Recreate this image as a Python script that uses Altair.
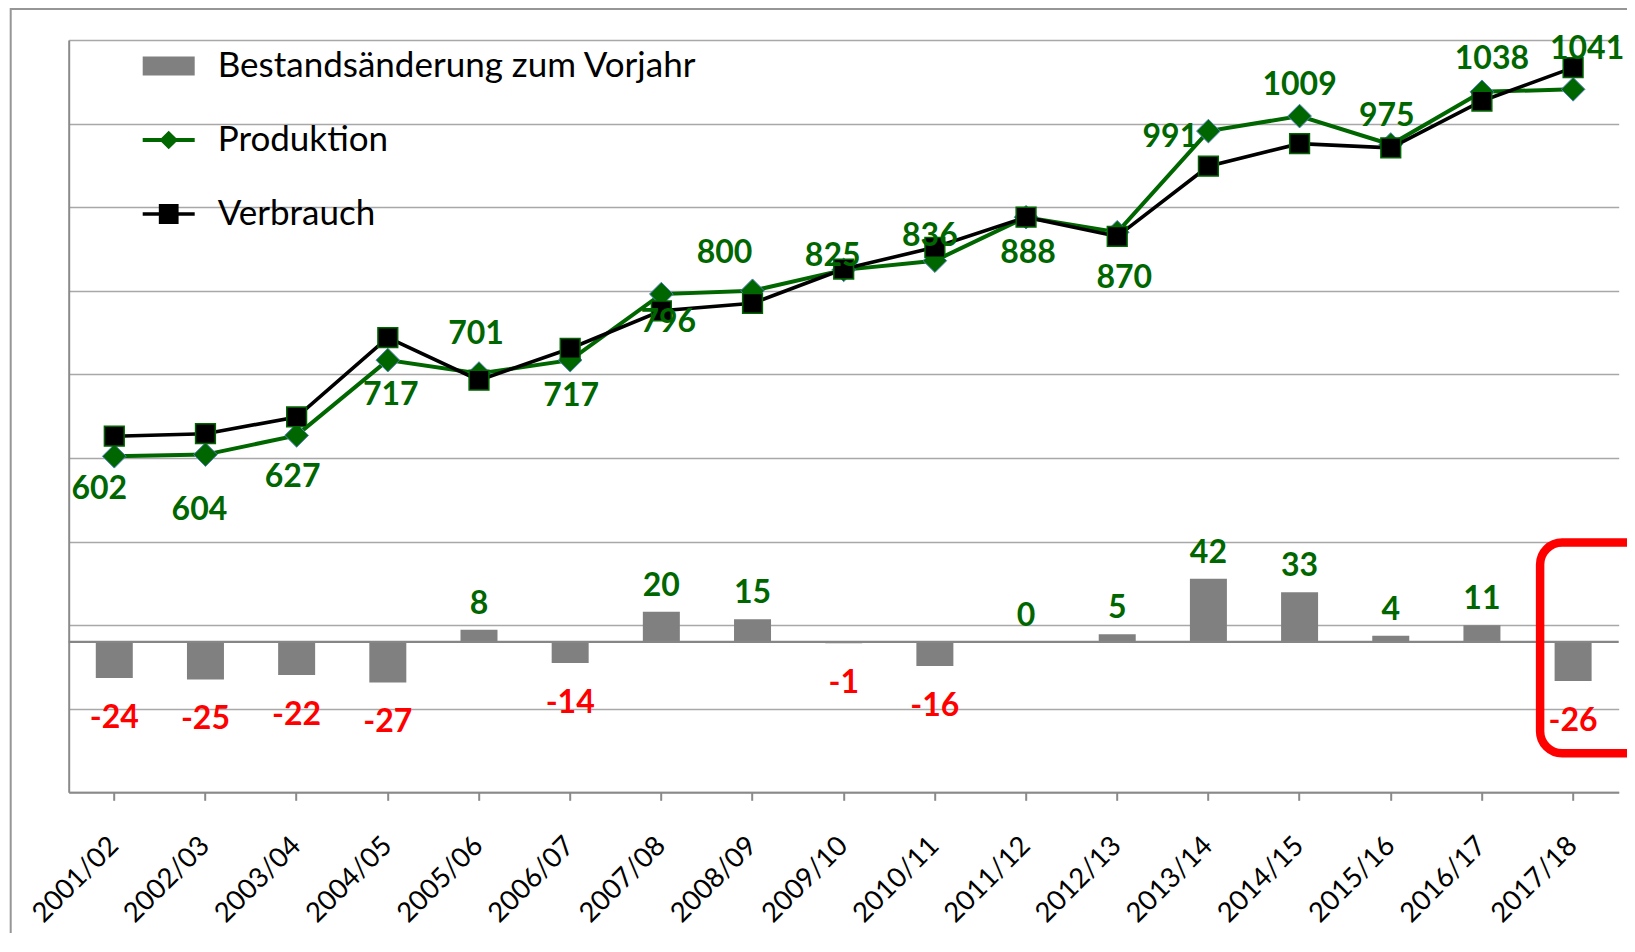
import altair as alt
import pandas as pd

# ---------------- data ----------------
SAISON = ["2001/02", "2002/03", "2003/04", "2004/05", "2005/06", "2006/07",
          "2007/08", "2008/09", "2009/10", "2010/11", "2011/12", "2012/13",
          "2013/14", "2014/15", "2015/16", "2016/17", "2017/18"]
PRODUKTION = [602, 604, 627, 717, 701, 717, 796, 800, 825, 836, 888, 870,
              991, 1009, 975, 1038, 1041]
VERBRAUCH = [626, 629, 649, 744, 693, 731, 776, 785, 826, 852, 888, 865,
             949, 976, 971, 1027, 1067]
BESTAND = [-24, -25, -22, -27, 8, -14, 20, 15, -1, -16, 0, 5, 42, 33, 4, 11, -26]
SERIES = ["Bestandsänderung zum Vorjahr", "Produktion", "Verbrauch"]
Y_GRID = [200, 300, 400, 500, 600, 700, 800, 900, 1000, 1100]

# highlighted season (red frame) and its vertical extent on the change axis
HIGHLIGHT = ["2017/18"]
HIGHLIGHT_LO = [-74]
HIGHLIGHT_HI = [66]

# ---------------- layout / style ----------------
# label nudges (pixels) for the Produktion data labels, as placed in the original
LABEL_DX = [-15, -6, -4, 3, -3, 1, 7, -28, -11, -5, 2, 7, -38, 0, -4, 10, 14]
LABEL_DY = [33, 55, 42, 35, -40, 36, 28, -38, -14, -25, 36, 46, 6, -31, -28, -33, -40]

GREEN = "#006600"
RED = "#ff0000"
BAR = "#808080"
FONT = "Lato"
W, H = 1550, 752.3

df = pd.DataFrame({"Saison": SAISON, "Produktion": PRODUKTION,
                   "Verbrauch": VERBRAUCH, "Bestand": BESTAND,
                   "BestandText": [str(v) for v in BESTAND]})

x_axis = alt.Axis(title=None, labelAngle=-45, labelAlign="right", labelBaseline="middle",
                  labelFont=FONT, labelFontSize=27.5, labelColor="black", labelPadding=41,
                  tickSize=8, tickColor="#8a8a8a", tickWidth=2,
                  domainColor="#8a8a8a", domainWidth=2, grid=False, labelOverlap=False)
X = alt.X("Saison:N", sort=SAISON, scale=alt.Scale(paddingInner=0, paddingOuter=0), axis=x_axis)

YP = alt.Scale(domain=[200, 1100], nice=False, zero=False)
YB = alt.Scale(domain=[-100, 400], nice=False, zero=False)
y_axis = alt.Axis(title=None, values=Y_GRID, grid=True, gridColor="#a8a8a8", gridWidth=1.6,
                  labels=False, ticks=False, domain=True, domainColor="#8a8a8a", domainWidth=2)

# ---------- secondary (Bestandsänderung) ----------
bars = alt.Chart(df).mark_bar(size=37, color=BAR).encode(
    x=X, y=alt.Y("Bestand:Q", scale=YB, axis=None))
zero = alt.Chart(pd.DataFrame({"v": [0]})).mark_rule(color="#868686", strokeWidth=2.2).encode(
    y=alt.Y("v:Q", scale=YB, axis=None))
lab_pos = alt.Chart(df).transform_filter(alt.datum.Bestand >= 0).mark_text(
    dy=-26, font=FONT, fontSize=32, fontWeight="bold", color=GREEN, baseline="middle").encode(
    x=X, y=alt.Y("Bestand:Q", scale=YB, axis=None), text="BestandText:N")
lab_neg = alt.Chart(df).transform_filter(alt.datum.Bestand < 0).mark_text(
    dy=40, font=FONT, fontSize=32, fontWeight="bold", color=RED, baseline="middle").encode(
    x=X, y=alt.Y("Bestand:Q", scale=YB, axis=None), text="BestandText:N")
frame = alt.Chart(pd.DataFrame({"Saison": HIGHLIGHT, "lo": HIGHLIGHT_LO, "hi": HIGHLIGHT_HI})).mark_bar(
    size=200, xOffset=67, cornerRadius=22, fillOpacity=0, stroke=RED, strokeWidth=8.5).encode(
    x=X, y=alt.Y("lo:Q", scale=YB, axis=None), y2="hi:Q")
secondary = alt.layer(bars, zero, lab_pos, lab_neg, frame)

# ---------- primary (Produktion / Verbrauch) ----------
p_line = alt.Chart(df).mark_line(color=GREEN, strokeWidth=4).encode(
    x=X, y=alt.Y("Produktion:Q", scale=YP, axis=y_axis))
p_pts = alt.Chart(df).mark_point(shape="diamond", filled=True, size=560, fill=GREEN,
                                 stroke="#4f81bd", strokeWidth=1, opacity=1).encode(
    x=X, y=alt.Y("Produktion:Q", scale=YP, axis=y_axis))
v_line = alt.Chart(df).mark_line(color="black", strokeWidth=3.6).encode(
    x=X, y=alt.Y("Verbrauch:Q", scale=YP, axis=y_axis))
v_pts = alt.Chart(df).mark_point(shape="square", filled=True, size=390, fill="black",
                                 stroke=GREEN, strokeWidth=1.5, opacity=1).encode(
    x=X, y=alt.Y("Verbrauch:Q", scale=YP, axis=y_axis))

labels = []
for s, ddx, ddy in zip(SAISON, LABEL_DX, LABEL_DY):
    labels.append(
        alt.Chart(df).transform_filter(alt.datum.Saison == s).mark_text(
            dx=ddx, dy=ddy, font=FONT, fontSize=32, fontWeight="bold", color=GREEN,
            baseline="middle").encode(
            x=X, y=alt.Y("Produktion:Q", scale=YP, axis=y_axis), text="Produktion:Q"))

legend_paths = [
    "M-1,-0.37H1V0.37H-1Z",
    "M-1,-0.08H1V0.08H-1Z M0,-0.36L0.36,0L0,0.36L-0.36,0Z",
    "M-1,-0.065H1V0.065H-1Z M-0.38,-0.38H0.38V0.38H-0.38Z",
]
legend_layer = alt.Chart(pd.DataFrame({"Serie": SERIES})).transform_filter("false").mark_point(
    filled=True, opacity=1).encode(
    color=alt.Color("Serie:N", scale=alt.Scale(domain=SERIES, range=[BAR, GREEN, "black"]),
                    legend=alt.Legend(orient="none", legendX=74, legendY=0, title=None,
                                      labelFont=FONT, labelFontSize=35, labelColor="black",
                                      labelLimit=1000, symbolSize=2704, rowPadding=30,
                                      labelOffset=23, padding=0, symbolStrokeWidth=0,
                                      symbolOpacity=1)),
    shape=alt.Shape("Serie:N", scale=alt.Scale(domain=SERIES, range=legend_paths)))

primary = alt.layer(p_line, p_pts, v_line, v_pts, *labels, legend_layer)

# outer chart-area frame (decoration)
border = alt.Chart(pd.DataFrame({"a": [0]})).mark_rect(
    fillOpacity=0, stroke="#969696", strokeWidth=2).encode(
    x=alt.value(-58), x2=alt.value(W + 200), y=alt.value(-31), y2=alt.value(H + 300))

chart = alt.layer(border, secondary, primary).resolve_scale(y="independent").properties(
    width=W, height=H,
    autosize=alt.AutoSizeParams(type="none"),
    padding={"left": 60.7, "top": 32, "right": 8.3, "bottom": 140.7},
    background="white",
).configure_view(strokeWidth=0)

chart.save("out.html", embed_options={"renderer": "svg", "actions": False})
